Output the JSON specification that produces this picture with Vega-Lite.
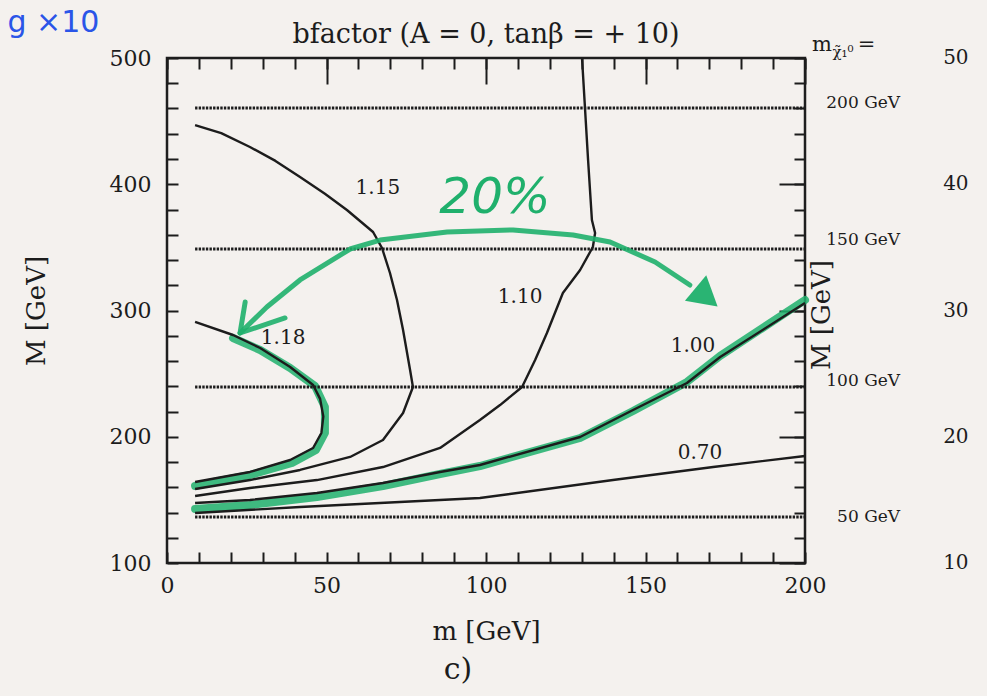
{
  "$schema": "https://vega.github.io/schema/vega-lite/v6.json",
  "autosize": {"type": "none"},
  "width": 638,
  "height": 505,
  "padding": {"left": 167, "top": 58, "right": 182, "bottom": 133},
  "background": "#f4f1ee",
  "config": {
    "view": {"stroke": "#1e1e1e", "strokeWidth": 2.5},
    "axis": {
      "grid": false,
      "domain": false,
      "labelFont": "DejaVu Serif",
      "titleFont": "DejaVu Serif",
      "labelColor": "#1c1c1c",
      "titleColor": "#1c1c1c",
      "tickColor": "#1c1c1c",
      "tickWidth": 2,
      "titleFontWeight": "normal",
      "labelFlush": false,
      "labelOverlap": false
    }
  },
  "datasets": {
    "curves": [
      {"c": "1.18", "i": 1, "m": 8.8, "M": 290.9},
      {"c": "1.18", "i": 2, "m": 20.7, "M": 280.6},
      {"c": "1.18", "i": 3, "m": 29.2, "M": 270.3},
      {"c": "1.18", "i": 4, "m": 38.6, "M": 255.2},
      {"c": "1.18", "i": 5, "m": 45.8, "M": 241.0},
      {"c": "1.18", "i": 6, "m": 48.0, "M": 230.0},
      {"c": "1.18", "i": 7, "m": 49.0, "M": 216.0},
      {"c": "1.18", "i": 8, "m": 48.4, "M": 203.0},
      {"c": "1.18", "i": 9, "m": 45.8, "M": 191.1},
      {"c": "1.18", "i": 10, "m": 38.6, "M": 181.6},
      {"c": "1.18", "i": 11, "m": 26.0, "M": 172.1},
      {"c": "1.18", "i": 12, "m": 15.7, "M": 167.3},
      {"c": "1.18", "i": 13, "m": 8.8, "M": 164.2},
      {"c": "1.15", "i": 1, "m": 8.8, "M": 446.9},
      {"c": "1.15", "i": 2, "m": 17.0, "M": 440.5},
      {"c": "1.15", "i": 3, "m": 26.0, "M": 429.5},
      {"c": "1.15", "i": 4, "m": 34.0, "M": 418.5},
      {"c": "1.15", "i": 5, "m": 41.7, "M": 405.7},
      {"c": "1.15", "i": 6, "m": 49.5, "M": 392.5},
      {"c": "1.15", "i": 7, "m": 56.4, "M": 379.6},
      {"c": "1.15", "i": 8, "m": 64.6, "M": 362.2},
      {"c": "1.15", "i": 9, "m": 67.4, "M": 349.5},
      {"c": "1.15", "i": 10, "m": 69.9, "M": 329.7},
      {"c": "1.15", "i": 11, "m": 72.1, "M": 308.3},
      {"c": "1.15", "i": 12, "m": 74.0, "M": 284.6},
      {"c": "1.15", "i": 13, "m": 76.2, "M": 252.9},
      {"c": "1.15", "i": 14, "m": 77.1, "M": 239.4},
      {"c": "1.15", "i": 15, "m": 74.0, "M": 218.8},
      {"c": "1.15", "i": 16, "m": 67.7, "M": 197.4},
      {"c": "1.15", "i": 17, "m": 57.4, "M": 184.0},
      {"c": "1.15", "i": 18, "m": 41.7, "M": 173.7},
      {"c": "1.15", "i": 19, "m": 26.0, "M": 165.7},
      {"c": "1.15", "i": 20, "m": 8.8, "M": 158.6},
      {"c": "1.10", "i": 1, "m": 130.1, "M": 500.0},
      {"c": "1.10", "i": 2, "m": 132.0, "M": 419.2},
      {"c": "1.10", "i": 3, "m": 133.2, "M": 371.7},
      {"c": "1.10", "i": 4, "m": 134.2, "M": 361.4},
      {"c": "1.10", "i": 5, "m": 133.5, "M": 350.3},
      {"c": "1.10", "i": 6, "m": 129.5, "M": 332.1},
      {"c": "1.10", "i": 7, "m": 124.1, "M": 313.9},
      {"c": "1.10", "i": 8, "m": 119.1, "M": 282.2},
      {"c": "1.10", "i": 9, "m": 115.4, "M": 260.8},
      {"c": "1.10", "i": 10, "m": 111.3, "M": 239.4},
      {"c": "1.10", "i": 11, "m": 104.4, "M": 225.1},
      {"c": "1.10", "i": 12, "m": 98.1, "M": 213.3},
      {"c": "1.10", "i": 13, "m": 85.6, "M": 191.1},
      {"c": "1.10", "i": 14, "m": 67.7, "M": 176.0},
      {"c": "1.10", "i": 15, "m": 47.0, "M": 165.7},
      {"c": "1.10", "i": 16, "m": 26.0, "M": 159.4},
      {"c": "1.10", "i": 17, "m": 8.8, "M": 153.1},
      {"c": "1.00", "i": 1, "m": 8.8, "M": 147.5},
      {"c": "1.00", "i": 2, "m": 26.0, "M": 149.9},
      {"c": "1.00", "i": 3, "m": 47.0, "M": 155.4},
      {"c": "1.00", "i": 4, "m": 67.7, "M": 163.4},
      {"c": "1.00", "i": 5, "m": 85.6, "M": 172.1},
      {"c": "1.00", "i": 6, "m": 98.1, "M": 177.6},
      {"c": "1.00", "i": 7, "m": 129.5, "M": 199.8},
      {"c": "1.00", "i": 8, "m": 146.1, "M": 221.2},
      {"c": "1.00", "i": 9, "m": 163.0, "M": 242.6},
      {"c": "1.00", "i": 10, "m": 173.4, "M": 263.2},
      {"c": "1.00", "i": 11, "m": 200.0, "M": 305.9},
      {"c": "0.70", "i": 1, "m": 8.8, "M": 139.6},
      {"c": "0.70", "i": 2, "m": 41.7, "M": 144.4},
      {"c": "0.70", "i": 3, "m": 73.0, "M": 148.3},
      {"c": "0.70", "i": 4, "m": 98.1, "M": 151.5},
      {"c": "0.70", "i": 5, "m": 139.8, "M": 165.7},
      {"c": "0.70", "i": 6, "m": 171.2, "M": 176.0},
      {"c": "0.70", "i": 7, "m": 200.0, "M": 184.8}
    ],
    "curveLabels": [
      {"t": "1.18", "m": 36.4, "M": 278.2},
      {"t": "1.15", "m": 66.1, "M": 397.0},
      {"t": "1.10", "m": 110.7, "M": 310.7},
      {"t": "1.00", "m": 164.9, "M": 271.9},
      {"t": "0.70", "m": 167.1, "M": 187.1}
    ],
    "neutralino": [
      {"mchi": 200, "M": 460.4, "m0": 8.8, "m1": 200},
      {"mchi": 150, "M": 348.7, "m0": 8.8, "m1": 200},
      {"mchi": 100, "M": 239.4, "m0": 8.8, "m1": 200},
      {"mchi": 50, "M": 136.4, "m0": 8.8, "m1": 200}
    ],
    "neutralinoLabels": [
      {"t": "200 GeV", "m": 229.8, "M": 464.4},
      {"t": "150 GeV", "m": 229.8, "M": 355.8},
      {"t": "100 GeV", "m": 229.8, "M": 244.2},
      {"t": "50 GeV", "m": 229.8, "M": 136.4}
    ],
    "marker": [
      {"g": "a", "i": 1, "m": 20.7, "M": 278.2},
      {"g": "a", "i": 2, "m": 29.2, "M": 268.7},
      {"g": "a", "i": 3, "m": 38.6, "M": 254.5},
      {"g": "a", "i": 4, "m": 46.4, "M": 240.2},
      {"g": "a", "i": 5, "m": 49.5, "M": 223.6},
      {"g": "a", "i": 6, "m": 49.5, "M": 203.0},
      {"g": "a", "i": 7, "m": 46.7, "M": 189.5},
      {"g": "a", "i": 8, "m": 39.2, "M": 179.2},
      {"g": "a", "i": 9, "m": 26.0, "M": 169.7},
      {"g": "a", "i": 10, "m": 15.7, "M": 164.9},
      {"g": "a", "i": 11, "m": 8.8, "M": 161.0},
      {"g": "b", "i": 1, "m": 8.8, "M": 142.8},
      {"g": "b", "i": 2, "m": 26.0, "M": 145.9},
      {"g": "b", "i": 3, "m": 47.0, "M": 152.3},
      {"g": "b", "i": 4, "m": 67.7, "M": 161.0},
      {"g": "b", "i": 5, "m": 85.6, "M": 170.5},
      {"g": "b", "i": 6, "m": 98.1, "M": 176.8},
      {"g": "b", "i": 7, "m": 129.5, "M": 199.0},
      {"g": "b", "i": 8, "m": 146.1, "M": 220.4},
      {"g": "b", "i": 9, "m": 163.0, "M": 243.4},
      {"g": "b", "i": 10, "m": 173.4, "M": 264.0},
      {"g": "b", "i": 11, "m": 200.0, "M": 308.3}
    ],
    "arc": [
      {"g": "arc", "i": 1, "m": 22.9, "M": 282.2},
      {"g": "arc", "i": 2, "m": 31.3, "M": 302.8},
      {"g": "arc", "i": 3, "m": 41.7, "M": 324.2},
      {"g": "arc", "i": 4, "m": 57.4, "M": 348.7},
      {"g": "arc", "i": 5, "m": 66.8, "M": 355.8},
      {"g": "arc", "i": 6, "m": 87.8, "M": 362.2},
      {"g": "arc", "i": 7, "m": 108.5, "M": 363.8},
      {"g": "arc", "i": 8, "m": 127.3, "M": 359.8},
      {"g": "arc", "i": 9, "m": 138.9, "M": 354.3},
      {"g": "arc", "i": 10, "m": 153.0, "M": 338.4},
      {"g": "arc", "i": 11, "m": 163.9, "M": 320.2},
      {"g": "barb", "i": 1, "m": 24.5, "M": 306.7},
      {"g": "barb", "i": 2, "m": 22.9, "M": 282.2},
      {"g": "barb", "i": 3, "m": 37.0, "M": 294.1}
    ],
    "arrowTip": [
      {"m": 168.0, "M": 313.0}
    ],
    "nextPanel": [
      {"t": "50", "m": 243.3, "M": 500},
      {"t": "40", "m": 243.3, "M": 400},
      {"t": "30", "m": 243.3, "M": 300},
      {"t": "20", "m": 243.3, "M": 200},
      {"t": "10", "m": 243.3, "M": 100}
    ]
  },
  "resolve": {"axis": {"x": "independent", "y": "independent"}},
  "layer": [
    {
      "data": {"name": "marker"},
      "mark": {"type": "line", "color": "#1fb06c", "strokeWidth": 8, "opacity": 0.85, "strokeCap": "round", "strokeJoin": "round"},
      "encoding": {
        "x": {"field": "m", "type": "quantitative", "scale": {"domain": [0, 200], "nice": false, "zero": false},
          "axis": {"orient": "top", "values": [0, 50, 100, 150, 200], "tickSize": -26, "labels": false, "title": null}},
        "y": {"field": "M", "type": "quantitative", "scale": {"domain": [100, 500], "nice": false, "zero": false},
          "axis": {"orient": "right", "values": [100, 200, 300, 400, 500], "tickSize": -26, "labels": false, "title": null}},
        "detail": {"field": "g"},
        "order": {"field": "i"}
      }
    },
    {
      "data": {"name": "curves"},
      "mark": {"type": "line", "color": "#1c1c1c", "strokeWidth": 2.4, "strokeJoin": "round"},
      "encoding": {
        "x": {"field": "m", "type": "quantitative", "scale": {"domain": [0, 200], "nice": false, "zero": false},
          "axis": {"orient": "bottom", "values": [0, 50, 100, 150, 200], "ticks": false, "labelFontSize": 22, "labelPadding": 12, "title": "m [GeV]", "titleFontSize": 26, "titlePadding": 22}},
        "y": {"field": "M", "type": "quantitative", "scale": {"domain": [100, 500], "nice": false, "zero": false},
          "axis": {"orient": "left", "values": [100, 200, 300, 400, 500], "ticks": false, "labelFontSize": 22, "labelPadding": 16, "title": "M [GeV]", "titleFontSize": 26, "titlePadding": 60}},
        "detail": {"field": "c"},
        "order": {"field": "i"}
      }
    },
    {
      "data": {"name": "neutralino"},
      "mark": {"type": "rule", "color": "#1c1c1c", "strokeWidth": 3, "strokeDash": [2.4, 1.2]},
      "encoding": {
        "x": {"field": "m0", "type": "quantitative", "scale": {"domain": [0, 200], "nice": false, "zero": false},
          "axis": {"orient": "bottom", "values": [0, 10, 20, 30, 40, 50, 60, 70, 80, 90, 100, 110, 120, 130, 140, 150, 160, 170, 180, 190, 200], "tickSize": -11, "labels": false, "title": null}},
        "x2": {"field": "m1"},
        "y": {"field": "M", "type": "quantitative", "scale": {"domain": [100, 500], "nice": false, "zero": false},
          "axis": {"orient": "left", "values": [100, 120, 140, 160, 180, 200, 220, 240, 260, 280, 300, 320, 340, 360, 380, 400, 420, 440, 460, 480, 500], "tickSize": -11, "labels": false, "title": null}}
      }
    },
    {
      "data": {"name": "arc"},
      "mark": {"type": "line", "color": "#1fb06c", "strokeWidth": 5, "opacity": 0.9, "strokeCap": "round", "strokeJoin": "round"},
      "encoding": {
        "x": {"field": "m", "type": "quantitative", "scale": {"domain": [0, 200], "nice": false, "zero": false},
          "axis": {"orient": "top", "values": [0, 10, 20, 30, 40, 50, 60, 70, 80, 90, 100, 110, 120, 130, 140, 150, 160, 170, 180, 190, 200], "tickSize": -11, "labels": false, "title": null}},
        "y": {"field": "M", "type": "quantitative", "scale": {"domain": [100, 500], "nice": false, "zero": false},
          "axis": {"orient": "right", "values": [100, 120, 140, 160, 180, 200, 220, 240, 260, 280, 300, 320, 340, 360, 380, 400, 420, 440, 460, 480, 500], "tickSize": -11, "labels": false, "title": null}},
        "detail": {"field": "g"},
        "order": {"field": "i"}
      }
    },
    {
      "data": {"name": "arrowTip"},
      "mark": {"type": "point", "shape": "triangle", "filled": true, "color": "#1fb06c", "opacity": 0.95, "size": 1100, "angle": 130},
      "encoding": {
        "x": {"field": "m", "type": "quantitative", "scale": {"domain": [0, 200], "nice": false, "zero": false}, "axis": null},
        "y": {"field": "M", "type": "quantitative", "scale": {"domain": [100, 500], "nice": false, "zero": false}, "axis": null}
      }
    },
    {
      "data": {"values": [{"t": "20%", "m": 102.8, "M": 389.1}]},
      "mark": {"type": "text", "font": "DejaVu Sans", "fontSize": 50, "fontStyle": "italic", "color": "#1fb06c", "align": "center", "baseline": "middle"},
      "encoding": {
        "x": {"field": "m", "type": "quantitative", "scale": {"domain": [0, 200], "nice": false, "zero": false}, "axis": null},
        "y": {"field": "M", "type": "quantitative", "scale": {"domain": [100, 500], "nice": false, "zero": false}, "axis": null},
        "text": {"field": "t"}
      }
    },
    {
      "data": {"name": "curveLabels"},
      "mark": {"type": "text", "font": "DejaVu Serif", "fontSize": 20, "color": "#1c1c1c", "align": "center", "baseline": "middle"},
      "encoding": {
        "x": {"field": "m", "type": "quantitative", "scale": {"domain": [0, 200], "nice": false, "zero": false}, "axis": null},
        "y": {"field": "M", "type": "quantitative", "scale": {"domain": [100, 500], "nice": false, "zero": false}, "axis": null},
        "text": {"field": "t"}
      }
    },
    {
      "data": {"values": [{"t": "bfactor (A = 0, tanβ = + 10)", "m": 100, "M": 518.2}]},
      "mark": {"type": "text", "font": "DejaVu Serif", "fontSize": 27, "color": "#1c1c1c", "align": "center", "baseline": "middle"},
      "encoding": {
        "x": {"field": "m", "type": "quantitative", "scale": {"domain": [0, 200], "nice": false, "zero": false}, "axis": null},
        "y": {"field": "M", "type": "quantitative", "scale": {"domain": [100, 500], "nice": false, "zero": false}, "axis": null},
        "text": {"field": "t"}
      }
    },
    {
      "data": {"name": "neutralinoLabels"},
      "mark": {"type": "text", "font": "DejaVu Serif", "fontSize": 17, "color": "#1c1c1c", "align": "right", "baseline": "middle"},
      "encoding": {
        "x": {"field": "m", "type": "quantitative", "scale": {"domain": [0, 200], "nice": false, "zero": false}, "axis": null},
        "y": {"field": "M", "type": "quantitative", "scale": {"domain": [100, 500], "nice": false, "zero": false}, "axis": null},
        "text": {"field": "t"}
      }
    },
    {
      "data": {"values": [{"t": "m", "m": 202.2, "M": 510.3}, {"t": "=", "m": 216.5, "M": 510.3}]},
      "mark": {"type": "text", "font": "DejaVu Serif", "fontSize": 21, "color": "#1c1c1c", "align": "left", "baseline": "middle"},
      "encoding": {
        "x": {"field": "m", "type": "quantitative", "scale": {"domain": [0, 200], "nice": false, "zero": false}, "axis": null},
        "y": {"field": "M", "type": "quantitative", "scale": {"domain": [100, 500], "nice": false, "zero": false}, "axis": null},
        "text": {"field": "t"}
      }
    },
    {
      "data": {"values": [{"t": "χ̃₁⁰", "m": 208.6, "M": 505.0}]},
      "mark": {"type": "text", "font": "DejaVu Serif", "fontSize": 15, "color": "#1c1c1c", "align": "left", "baseline": "middle"},
      "encoding": {
        "x": {"field": "m", "type": "quantitative", "scale": {"domain": [0, 200], "nice": false, "zero": false}, "axis": null},
        "y": {"field": "M", "type": "quantitative", "scale": {"domain": [100, 500], "nice": false, "zero": false}, "axis": null},
        "text": {"field": "t"}
      }
    },
    {
      "data": {"values": [{"t": "M [GeV]", "m": 205.3, "M": 296.4}]},
      "mark": {"type": "text", "font": "DejaVu Serif", "fontSize": 26, "color": "#1c1c1c", "align": "center", "baseline": "middle", "angle": 270},
      "encoding": {
        "x": {"field": "m", "type": "quantitative", "scale": {"domain": [0, 200], "nice": false, "zero": false}, "axis": null},
        "y": {"field": "M", "type": "quantitative", "scale": {"domain": [100, 500], "nice": false, "zero": false}, "axis": null},
        "text": {"field": "t"}
      }
    },
    {
      "data": {"name": "nextPanel"},
      "mark": {"type": "text", "font": "DejaVu Serif", "fontSize": 20, "color": "#1c1c1c", "align": "left", "baseline": "middle"},
      "encoding": {
        "x": {"field": "m", "type": "quantitative", "scale": {"domain": [0, 200], "nice": false, "zero": false}, "axis": null},
        "y": {"field": "M", "type": "quantitative", "scale": {"domain": [100, 500], "nice": false, "zero": false}, "axis": null},
        "text": {"field": "t"}
      }
    },
    {
      "data": {"values": [{"t": "c)", "m": 91.2, "M": 15.0}]},
      "mark": {"type": "text", "font": "DejaVu Serif", "fontSize": 30, "color": "#1c1c1c", "align": "center", "baseline": "middle"},
      "encoding": {
        "x": {"field": "m", "type": "quantitative", "scale": {"domain": [0, 200], "nice": false, "zero": false}, "axis": null},
        "y": {"field": "M", "type": "quantitative", "scale": {"domain": [100, 500], "nice": false, "zero": false}, "axis": null},
        "text": {"field": "t"}
      }
    },
    {
      "data": {"values": [{"t": "g ×10", "m": -50.0, "M": 520.6}]},
      "mark": {"type": "text", "font": "DejaVu Sans", "fontSize": 30, "color": "#2a55e8", "align": "left", "baseline": "alphabetic"},
      "encoding": {
        "x": {"field": "m", "type": "quantitative", "scale": {"domain": [0, 200], "nice": false, "zero": false}, "axis": null},
        "y": {"field": "M", "type": "quantitative", "scale": {"domain": [100, 500], "nice": false, "zero": false}, "axis": null},
        "text": {"field": "t"}
      }
    }
  ]
}
